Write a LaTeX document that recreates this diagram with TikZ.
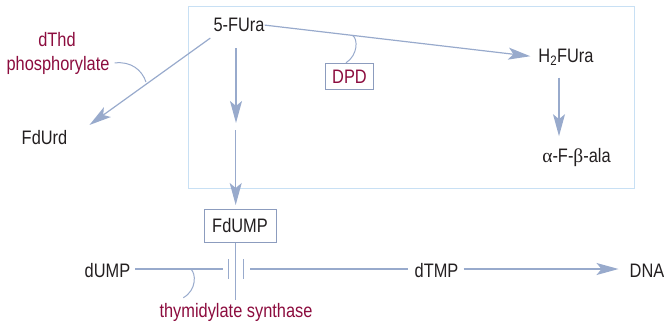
\documentclass[tikz,border=0pt]{standalone}
\usepackage{fontspec}
\setmainfont{Liberation Sans}[FakeStretch=0.84]
\newfontfamily\greekserif{Liberation Serif}
\usetikzlibrary{arrows.meta,calc}
\definecolor{linec}{RGB}{152,170,204}
\definecolor{regionc}{RGB}{200,224,244}
\definecolor{boxc}{RGB}{140,156,190}
\definecolor{redc}{RGB}{140,12,62}
\definecolor{txtc}{RGB}{35,31,32}
\begin{document}
\begin{tikzpicture}[x=1pt,y=-1pt,
  txt/.style={inner sep=0pt,anchor=base,text=txtc,font=\fontsize{19.5}{22}\selectfont},
  redtxt/.style={txt,text=redc},
  conn/.style={draw=linec,line width=1.2pt},
  arr/.style={conn,-{Stealth[length=22pt,width=12pt,inset=5pt]}},
  enzbox/.style={draw=boxc,line width=1pt,fill=white,inner sep=0pt,font=\fontsize{19.5}{22}\selectfont}
]
\useasboundingbox (0,0) rectangle (664,325);
% region box
\node[draw=regionc,line width=1pt,minimum width=446pt,minimum height=182pt,inner sep=0pt] (region) at (411,97) {};

% texts
\node[txt] (fura) at (239,31.7) {5-FUra};
\node[txt] (h2) at (566,62.3) {H\textsubscript{2}FUra};
\node[txt] (ala) at (576.5,162.5) {{\greekserif α}-F-{\greekserif β}-ala};
\node[txt] (fdurd) at (44.5,144.3) {FdUrd};
\node[redtxt] (dthd) at (57,46) {dThd};
\node[redtxt] (phos) at (58,70) {phosphorylate};
\node[txt] (dump) at (107.5,277.7) {dUMP};
\node[txt] (dtmp) at (436.5,277) {dTMP};
\node[txt] (dna) at (647,277) {DNA};
\node[redtxt] (ts) at (236,317.3) {thymidylate synthase};
\node[enzbox,minimum width=47.6pt,minimum height=26pt,text=redc] (dpd) at (349.5,76.3) {DPD};
\node[enzbox,minimum width=72pt,minimum height=33pt,text=txtc] (fdump) at (240,225.5) {FdUMP};

% helper coordinates
\coordinate (v1a) at ($(fura.south)+(-3,16)$);
\coordinate (v1b) at (236,123);
\coordinate (v2a) at (235.7,130);
\coordinate (tsend) at (235.7,300);
\coordinate (bar1) at (228.3,269);
\coordinate (bar2) at (243.3,269);
\coordinate (l1) at ($(fura.west)+(-3,13)$);
\coordinate (l2) at ($(fdurd.north east)+(22,-5)$);

% connectors
\draw[arr,shorten >=8pt] (fura.east) -- (h2.west);
\draw[arr] (l1) -- (l2);
\draw[arr] (v1a) -- (v1b);
\draw[arr,shorten >=3.5pt] (v2a) -- (v2a |- fdump.north);
\draw[conn] (fdump.south -| tsend) -- (tsend);
\draw[arr] ([xshift=-7pt,yshift=-12pt]h2.south) -- ([xshift=-17.5pt,yshift=12pt]ala.north);
\draw[conn,shorten <=5pt,shorten >=5.3pt] (dump.east |- bar1) -- (bar1);
\draw[conn] ($(bar1)+(0,-10)$) -- ($(bar1)+(0,10)$);
\draw[conn] ($(bar2)+(0,-10)$) -- ($(bar2)+(0,10)$);
\draw[conn,shorten <=6.7pt,shorten >=6pt] (bar2) -- (dtmp.west |- bar2);
\draw[arr,shorten <=5pt,shorten >=11pt] (dtmp.east |- bar2) -- (dna.west |- bar2);

% enzyme arcs
\draw[conn,line width=1pt] ($(phos.east)+(5,-2)$) .. controls (131,61) and (142,70) .. (146,82);
\draw[conn,line width=1pt] (352.7,35.5) .. controls (358,39) and (358,55) .. ([xshift=-3.5pt]dpd.north);
\draw[conn,line width=1pt] (190.7,269) .. controls (196,273) and (197,290) .. (183.3,297.7);
\end{tikzpicture}
\end{document}
